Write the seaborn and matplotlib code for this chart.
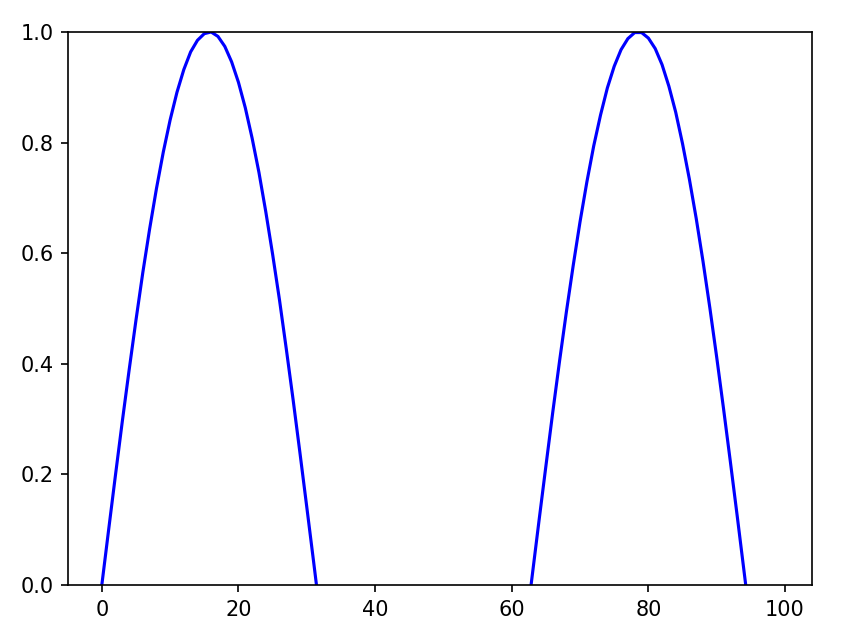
import numpy as np
import pandas as pd
import matplotlib
matplotlib.use("Agg")
import matplotlib.pyplot as plt
import seaborn as sns

# values, one per x step
x_vals = list(range(100))
y_vals = [
    0.000, 0.100, 0.199, 0.296, 0.389, 0.479, 0.565, 0.644, 0.717, 0.783,
    0.841, 0.891, 0.932, 0.964, 0.985, 0.997, 1.000, 0.992, 0.974, 0.946,
    0.909, 0.863, 0.808, 0.746, 0.675, 0.598, 0.516, 0.427, 0.335, 0.239,
    0.141, 0.042, -0.058, -0.158, -0.256, -0.351, -0.443, -0.530, -0.612, -0.688,
    -0.757, -0.818, -0.872, -0.916, -0.952, -0.978, -0.994, -1.000, -0.996, -0.982,
    -0.959, -0.926, -0.883, -0.832, -0.773, -0.706, -0.631, -0.551, -0.465, -0.374,
    -0.279, -0.182, -0.083, 0.017, 0.117, 0.215, 0.312, 0.405, 0.494, 0.578,
    0.657, 0.729, 0.794, 0.850, 0.899, 0.938, 0.968, 0.988, 0.999, 0.999,
    0.989, 0.970, 0.941, 0.902, 0.855, 0.798, 0.734, 0.663, 0.585, 0.501,
    0.412, 0.319, 0.223, 0.125, 0.025, -0.075, -0.174, -0.272, -0.366, -0.458,
]

df = pd.DataFrame({"x": x_vals, "y": y_vals})

fig = plt.figure(figsize=(857 / 150, 640 / 150), dpi=150)
ax = fig.add_axes([68 / 857, 1 - 585 / 640, (812 - 68) / 857, (585 - 32) / 640])
sns.lineplot(data=df, x="x", y="y", color="blue", ax=ax, sort=False)
ax.set_ylim(0, 1)
ax.set_xlabel("")
ax.set_ylabel("")

fig.savefig("out.png", dpi=150)
